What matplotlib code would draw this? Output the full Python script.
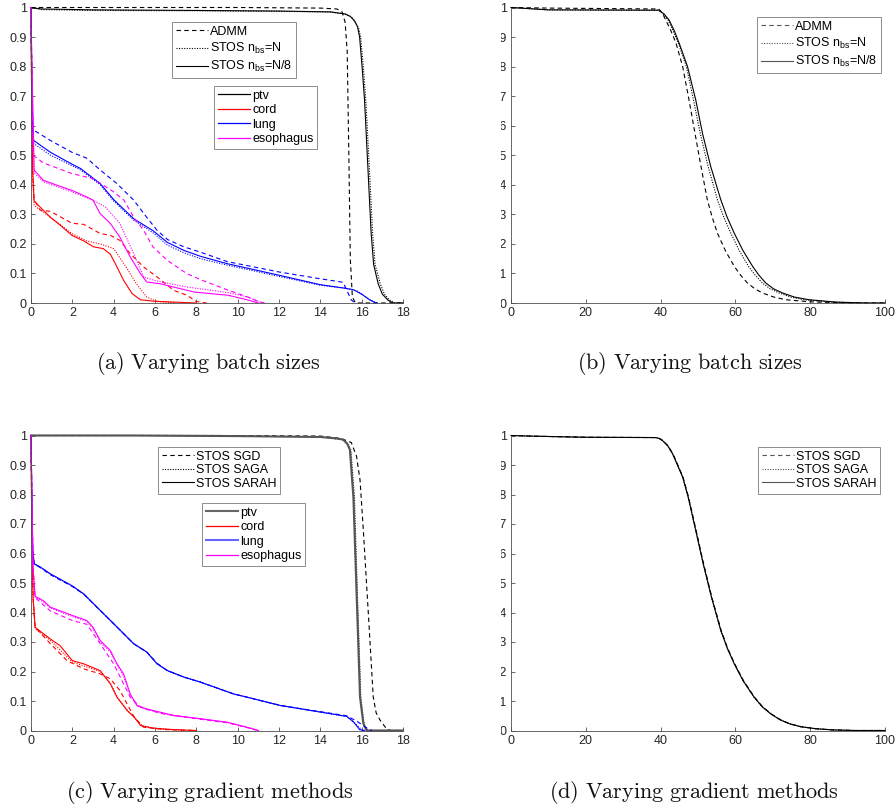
import numpy as np
import matplotlib
matplotlib.use('Agg')
import matplotlib.pyplot as plt
from matplotlib.lines import Line2D
from matplotlib.patches import Rectangle

plt.rcParams['font.family'] = ['Liberation Sans', 'DejaVu Sans']
plt.rcParams['mathtext.fontset'] = 'custom'
plt.rcParams['mathtext.rm'] = 'Liberation Sans'
plt.rcParams['mathtext.it'] = 'Liberation Sans:italic'

# ---------------- panel (a): dose volume histograms, batch sizes ----------------
a_ptv_admm = [(0, 1), (5, 1), (10, 1), (14, 0.998), (14.8, 0.995), (15.05, 0.985), (15.2, 0.95),
              (15.3, 0.85), (15.38, 0.5), (15.45, 0.15), (15.55, 0.02), (15.7, 0), (18, 0)]
a_ptv_n = [(0, 1), (0.5, 0.993), (3, 0.99), (8, 0.989), (12, 0.987), (14.5, 0.985), (15.2, 0.978),
           (15.5, 0.968), (15.7, 0.95), (15.85, 0.93), (15.95, 0.9), (16.08, 0.8), (16.2, 0.686),
           (16.37, 0.46), (16.53, 0.235), (16.65, 0.13), (16.9, 0.065), (17.1, 0.03), (17.35, 0.01),
           (17.6, 0), (18, 0)]
a_ptv_n8 = [(0, 1), (0.5, 0.995), (3, 0.992), (8, 0.99), (12, 0.988), (14.5, 0.985), (15.2, 0.978),
            (15.45, 0.97), (15.65, 0.955), (15.8, 0.935), (15.9, 0.9), (16.02, 0.8), (16.14, 0.686),
            (16.3, 0.46), (16.46, 0.235), (16.58, 0.13), (16.8, 0.065), (17.0, 0.03), (17.27, 0.01),
            (17.5, 0), (18, 0)]

a_lung_admm = [(0, 1), (0.03, 0.82), (0.08, 0.62), (0.13, 0.585), (0.94, 0.55), (1.98, 0.51),
               (2.7, 0.49), (3.35, 0.45), (4.16, 0.404), (4.97, 0.348), (5.6, 0.29), (6.1, 0.246),
               (6.6, 0.215), (7.4, 0.19), (8.2, 0.172), (9.5, 0.14), (12, 0.105), (14, 0.082),
               (15.1, 0.07), (15.3, 0.04), (15.5, 0.01), (15.7, 0)]
a_lung_n = [(0, 1), (0.03, 0.8), (0.08, 0.6), (0.13, 0.54), (0.94, 0.5), (1.98, 0.465), (2.4, 0.45),
            (3.35, 0.4), (4.0, 0.345), (4.97, 0.28), (5.9, 0.238), (6.6, 0.196), (7.4, 0.17),
            (8.2, 0.15), (9.5, 0.128), (12, 0.09), (14, 0.06), (15.2, 0.05), (15.8, 0.04),
            (16.2, 0.02), (16.6, 0.003), (16.8, 0)]
a_lung_n8 = [(0, 1), (0.03, 0.8), (0.08, 0.6), (0.13, 0.55), (0.94, 0.51), (1.98, 0.47), (2.4, 0.455),
             (3.35, 0.404), (4.0, 0.35), (4.97, 0.285), (5.9, 0.245), (6.6, 0.205), (7.4, 0.178),
             (8.2, 0.158), (9.5, 0.133), (12, 0.094), (14, 0.062), (15.2, 0.05), (15.6, 0.045),
             (16.0, 0.03), (16.4, 0.01), (16.7, 0)]

a_cord_admm = [(0, 1), (0.03, 0.7), (0.08, 0.45), (0.15, 0.35), (0.45, 0.314), (0.94, 0.31),
               (1.98, 0.27), (2.55, 0.266), (3.35, 0.235), (3.84, 0.229), (4.3, 0.212), (4.8, 0.167),
               (5.45, 0.122), (6.1, 0.088), (6.9, 0.043), (7.55, 0.026), (8.0, 0.005), (8.5, 0)]
a_cord_n = [(0, 1), (0.03, 0.7), (0.08, 0.43), (0.15, 0.33), (0.94, 0.29), (1.98, 0.235), (2.7, 0.21),
            (3.35, 0.2), (4.0, 0.184), (4.6, 0.122), (5.1, 0.065), (5.6, 0.02), (6.1, 0.005), (7, 0)]
a_cord_n8 = [(0, 1), (0.03, 0.7), (0.08, 0.45), (0.15, 0.345), (0.94, 0.29), (1.42, 0.263),
             (1.98, 0.229), (2.55, 0.21), (3.03, 0.19), (3.5, 0.184), (3.84, 0.165), (4.08, 0.133),
             (4.48, 0.077), (4.89, 0.032), (5.29, 0.011), (5.94, 0.006), (8, 0)]

a_eso_admm = [(0, 1), (0.03, 0.85), (0.1, 0.5), (0.6, 0.474), (1.98, 0.438), (3.0, 0.421),
              (4.0, 0.376), (4.5, 0.348), (4.97, 0.29), (5.45, 0.246), (5.9, 0.19), (6.6, 0.144),
              (7.55, 0.099), (8.2, 0.079), (9.56, 0.043), (10.5, 0.02), (11, 0.005), (11.3, 0)]
a_eso_n = [(0, 1), (0.03, 0.85), (0.15, 0.44), (0.6, 0.41), (1.98, 0.376), (3.0, 0.348), (3.6, 0.325),
           (4.3, 0.269), (4.97, 0.167), (5.45, 0.088), (6.1, 0.074), (7.55, 0.054), (8.2, 0.048),
           (9.56, 0.035), (10.5, 0.02), (11.2, 0)]
a_eso_n8 = [(0, 1), (0.03, 0.85), (0.15, 0.45), (0.6, 0.415), (1.98, 0.381), (2.7, 0.359), (3.0, 0.348),
            (3.35, 0.302), (3.84, 0.269), (4.3, 0.223), (4.8, 0.156), (5.3, 0.099), (5.6, 0.071),
            (6.26, 0.065), (6.9, 0.054), (7.9, 0.037), (9.56, 0.026), (10.5, 0.01), (11, 0)]

# ---------------- panel (b) ----------------
b_admm = [(0, 1), (10, 0.998), (39.5, 0.995), (40.5, 0.98), (41.4, 0.957), (42.8, 0.92), (44.1, 0.88),
          (45.9, 0.8), (47.6, 0.687), (49.2, 0.574), (50.8, 0.462), (52.5, 0.349), (53.8, 0.29),
          (55.2, 0.236), (57.4, 0.175), (59.7, 0.124), (61.4, 0.094), (63.2, 0.068), (65.2, 0.048),
          (67.2, 0.034), (70.3, 0.02), (73.5, 0.011), (80, 0.004), (90, 0), (100, 0)]
b_n = [(0, 1), (10, 0.992), (39.5, 0.99), (40.8, 0.977), (42, 0.957), (43.4, 0.92), (44.8, 0.878),
       (46.9, 0.8), (48.8, 0.687), (50.6, 0.574), (52.7, 0.462), (55.2, 0.349), (56.9, 0.29),
       (58.8, 0.236), (61.0, 0.178), (63.5, 0.124), (65.3, 0.094), (67.2, 0.068), (69.3, 0.048),
       (71.7, 0.034), (74.8, 0.02), (78.4, 0.011), (86, 0.003), (94, 0), (100, 0)]
b_n8 = [(0, 1), (10, 0.992), (39.6, 0.991), (41.0, 0.977), (42.3, 0.957), (43.7, 0.92), (45, 0.878),
        (47.2, 0.8), (49.4, 0.687), (51.2, 0.574), (53.4, 0.462), (56.1, 0.349), (57.8, 0.29),
        (59.7, 0.236), (62.0, 0.178), (64.6, 0.124), (66.3, 0.094), (68.1, 0.068), (70.2, 0.048),
        (72.6, 0.034), (75.8, 0.02), (79.7, 0.011), (87, 0.003), (95, 0), (100, 0)]

# ---------------- panel (c): gradient methods ----------------
c_ptv_sgd = [(0, 1), (9, 1), (14, 0.998), (15.0, 0.99), (15.5, 0.976), (15.75, 0.93), (15.92, 0.85),
             (16.08, 0.68), (16.32, 0.4), (16.56, 0.113), (16.7, 0.06), (16.9, 0.034), (17.2, 0.006),
             (17.4, 0), (18, 0)]
c_ptv_saga = [(0, 1), (5, 1), (10, 0.998), (14, 0.995), (15.15, 0.985), (15.35, 0.97), (15.48, 0.95),
              (15.65, 0.79), (15.8, 0.45), (15.96, 0.11), (16.12, 0.02), (16.3, 0), (18, 0)]
c_ptv_sarah = [(0, 1), (5, 1), (10, 0.998), (14, 0.995), (14.8, 0.99), (15.1, 0.986), (15.3, 0.972),
               (15.43, 0.952), (15.6, 0.79), (15.76, 0.453), (15.92, 0.113), (16.08, 0.024),
               (16.24, 0), (18, 0)]

c_lung_sgd = [(0, 1), (0.03, 0.85), (0.08, 0.62), (0.15, 0.565), (0.45, 0.552), (0.94, 0.528),
              (2.0, 0.488), (2.55, 0.462), (3.35, 0.407), (4.0, 0.362), (4.97, 0.294), (5.6, 0.266),
              (6.1, 0.228), (6.6, 0.203), (7.4, 0.181), (8.2, 0.164), (9.8, 0.124), (10.45, 0.113),
              (12.05, 0.085), (15.27, 0.05), (15.8, 0.03), (16.2, 0.01), (16.5, 0)]
c_lung_saga = [(0, 1), (0.03, 0.85), (0.08, 0.62), (0.15, 0.565), (0.45, 0.554), (0.94, 0.53),
               (2.0, 0.49), (2.55, 0.463), (3.35, 0.407), (4.0, 0.362), (4.97, 0.294), (5.6, 0.266),
               (6.1, 0.226), (6.6, 0.203), (7.4, 0.181), (8.2, 0.164), (9.8, 0.124), (10.45, 0.113),
               (12.05, 0.085), (15.3, 0.047), (15.65, 0.025), (16.0, 0.003), (16.2, 0)]
c_lung_sarah = [(0, 1), (0.03, 0.85), (0.08, 0.62), (0.15, 0.565), (0.45, 0.554), (0.94, 0.531),
                (2.0, 0.49), (2.55, 0.463), (3.35, 0.407), (4.0, 0.362), (4.97, 0.294), (5.6, 0.266),
                (6.1, 0.226), (6.6, 0.203), (7.4, 0.181), (8.2, 0.164), (9.8, 0.124), (10.45, 0.113),
                (12.05, 0.085), (15.27, 0.048), (15.6, 0.03), (15.9, 0.003), (16.1, 0)]

c_cord_sgd = [(0, 1), (0.03, 0.75), (0.1, 0.45), (0.2, 0.35), (0.94, 0.294), (1.74, 0.237),
              (2.55, 0.209), (3.35, 0.192), (3.84, 0.175), (4.3, 0.136), (4.65, 0.09), (5.0, 0.045),
              (5.45, 0.011), (6.5, 0.003), (8, 0)]
c_cord_saga = [(0, 1), (0.03, 0.75), (0.1, 0.45), (0.2, 0.345), (0.94, 0.305), (2.0, 0.232),
               (3.35, 0.2), (3.84, 0.16), (4.2, 0.11), (4.7, 0.065), (5.05, 0.04), (5.4, 0.015),
               (6, 0.006), (7.5, 0)]
c_cord_sarah = [(0, 1), (0.03, 0.75), (0.1, 0.45), (0.2, 0.35), (0.94, 0.31), (1.4, 0.288), (2.0, 0.237),
                (2.55, 0.226), (3.35, 0.203), (3.84, 0.158), (4.16, 0.113), (4.65, 0.068), (5.0, 0.045),
                (5.3, 0.017), (5.94, 0.008), (6.9, 0.003), (8, 0)]

c_eso_sgd = [(0, 1), (0.03, 0.85), (0.1, 0.55), (0.2, 0.45), (0.94, 0.405), (2.0, 0.373), (2.7, 0.36),
             (3.35, 0.294), (4.0, 0.226), (4.8, 0.113), (5.3, 0.079), (6.26, 0.058), (8.2, 0.038),
             (9.5, 0.026), (10.45, 0.01), (11, 0)]
c_eso_saga = [(0, 1), (0.03, 0.85), (0.1, 0.55), (0.2, 0.452), (0.6, 0.436), (0.94, 0.415), (2.0, 0.386),
              (2.7, 0.37), (3.0, 0.345), (3.35, 0.3), (3.84, 0.266), (4.16, 0.222), (4.48, 0.185),
              (4.8, 0.12), (5.13, 0.083), (5.6, 0.071), (6.26, 0.06), (6.9, 0.05), (8.2, 0.039),
              (9.5, 0.027), (10.45, 0.011), (11, 0)]
c_eso_sarah = [(0, 1), (0.03, 0.85), (0.1, 0.55), (0.2, 0.455), (0.6, 0.44), (0.94, 0.418), (2.0, 0.39),
               (2.7, 0.373), (3.0, 0.35), (3.35, 0.305), (3.84, 0.271), (4.16, 0.226), (4.48, 0.192),
               (4.8, 0.124), (5.13, 0.085), (5.6, 0.073), (6.26, 0.062), (6.9, 0.051), (8.2, 0.04),
               (9.5, 0.028), (10.45, 0.011), (11, 0)]

# ---------------- panel (d) ----------------
d_sgd = [(0, 1), (5, 0.998), (20, 0.994), (38.7, 0.993), (39.7, 0.99), (40.6, 0.983), (42.0, 0.965),
         (43.3, 0.938), (44.6, 0.9), (46.0, 0.859), (47.5, 0.79), (49.5, 0.678), (51.5, 0.565),
         (53.7, 0.452), (56.2, 0.339), (57.9, 0.28), (59.8, 0.226), (62.2, 0.168), (65.1, 0.113),
         (67.3, 0.08), (69.6, 0.056), (72.1, 0.036), (74.5, 0.023), (77.5, 0.013), (81.6, 0.006),
         (86, 0.002), (92, 0), (100, 0)]
d_saga = [(0, 1), (5, 0.998), (20, 0.994), (38.7, 0.993), (39.6, 0.99), (40.5, 0.983), (41.9, 0.965),
          (43.2, 0.938), (44.5, 0.9), (45.9, 0.859), (47.4, 0.79), (49.4, 0.678), (51.4, 0.565),
          (53.6, 0.452), (56.1, 0.339), (57.8, 0.28), (59.7, 0.226), (62.1, 0.168), (65, 0.113),
          (67.2, 0.08), (69.5, 0.056), (72, 0.036), (74.4, 0.023), (77.4, 0.013), (81.5, 0.006),
          (86, 0.002), (92, 0), (100, 0)]
d_sarah = [(0, 1), (5, 0.998), (20, 0.994), (38.7, 0.993), (39.6, 0.99), (40.5, 0.983), (41.9, 0.965),
           (43.2, 0.938), (44.5, 0.9), (45.9, 0.859), (47.4, 0.79), (49.4, 0.678), (51.4, 0.565),
           (53.6, 0.452), (56.1, 0.339), (57.8, 0.28), (59.7, 0.226), (62.1, 0.168), (65, 0.113),
           (67.2, 0.08), (69.5, 0.056), (72, 0.036), (74.4, 0.023), (77.4, 0.013), (81.5, 0.006),
           (86, 0.002), (92, 0), (100, 0)]

organs = ['ptv', 'cord', 'lung', 'esophagus']
organ_colors = ['black', '#ff0000', '#0000ff', '#ff00ff']
ab_labels = ['ADMM', r'STOS n$_{\mathrm{bs}}$=N', r'STOS n$_{\mathrm{bs}}$=N/8']
cd_labels = ['STOS SGD', 'STOS SAGA', 'STOS SARAH']
ytick_labels = ['0', '0.1', '0.2', '0.3', '0.4', '0.5', '0.6', '0.7', '0.8', '0.9', '1']
captions = ['(a) Varying batch sizes', '(b) Varying batch sizes',
            '(c) Varying gradient methods', '(d) Varying gradient methods']

DASH = (0, (4, 3))
DOT = (0, (1, 1.3))
styles = [DASH, DOT, '-']

W, H = 896, 809
fig = plt.figure(figsize=(W / 100, H / 100), dpi=100)


def box(x0, y0, x1, y1):
    return [x0 / W, 1 - y1 / H, (x1 - x0) / W, (y1 - y0) / H]


def style(ax, xmax, xstep):
    ax.set_xlim(0, xmax)
    ax.set_ylim(0, 1)
    ax.set_xticks(np.arange(0, xmax + 1, xstep))
    ax.set_yticks(np.linspace(0, 1, 11))
    ax.set_yticklabels(ytick_labels)
    for s in ['top', 'right']:
        ax.spines[s].set_visible(False)
    for s in ['left', 'bottom']:
        ax.spines[s].set_color('#4d4d4d')
        ax.spines[s].set_linewidth(0.6)
    ax.tick_params(direction='in', length=3, width=0.6, colors='#4d4d4d',
                   labelcolor='#262626', labelsize=9, pad=3)


def draw(ax, curve, color, ls, lw=0.8):
    pts = np.array(curve)
    ax.plot(pts[:, 0], pts[:, 1], color=color, ls=ls, lw=lw, clip_on=False)


def legend(ax, handles, labels, x0, y0, spacing):
    lg = ax.legend(handles, labels, loc='upper left', bbox_to_anchor=(x0 / W, 1 - y0 / H),
                   bbox_transform=fig.transFigure, borderaxespad=0, fontsize=9,
                   fancybox=False, framealpha=1, edgecolor='#8c8c8c', handlelength=2.6,
                   handletextpad=0.15, labelspacing=spacing, borderpad=0.3)
    lg.get_frame().set_linewidth(0.7)
    return lg


axA = fig.add_axes(box(31, 7.5, 403, 303))
axB = fig.add_axes(box(511, 7.5, 885, 303))
axC = fig.add_axes(box(31, 435.5, 403, 730.5))
axD = fig.add_axes(box(511, 435.5, 885, 730.5))

# (a)
a_sets = [[a_ptv_admm, a_ptv_n, a_ptv_n8], [a_cord_admm, a_cord_n, a_cord_n8],
          [a_lung_admm, a_lung_n, a_lung_n8], [a_eso_admm, a_eso_n, a_eso_n8]]
for curves, col in zip(a_sets, organ_colors):
    for cv, ls in zip(curves, styles):
        draw(axA, cv, col, ls)
style(axA, 18, 2)
h1 = [Line2D([], [], color='black', ls=ls, lw=0.8) for ls in styles]
lg1 = legend(axA, h1, ab_labels, 172, 22, 0.25)
axA.add_artist(lg1)
h2 = [Line2D([], [], color=c, lw=0.9) for c in organ_colors]
legend(axA, h2, organs, 214, 86, 0.2)

# (b)
for cv, ls in zip([b_admm, b_n, b_n8], styles):
    draw(axB, cv, 'black', ls)
style(axB, 100, 20)
hb = [Line2D([], [], color='#555555', ls=ls, lw=0.8) for ls in styles]
legend(axB, hb, ab_labels, 757, 17, 0.25)

# (c)
c_sets = [[c_ptv_sgd, c_ptv_saga, c_ptv_sarah], [c_cord_sgd, c_cord_saga, c_cord_sarah],
          [c_lung_sgd, c_lung_saga, c_lung_sarah], [c_eso_sgd, c_eso_saga, c_eso_sarah]]
for i, (curves, col) in enumerate(zip(c_sets, organ_colors)):
    for cv, ls in zip(curves, styles):
        if i == 0 and ls == '-':
            draw(axC, cv, '#555555', ls, lw=1.5)
        else:
            draw(axC, cv, col, ls)
style(axC, 18, 2)
h3 = [Line2D([], [], color='black', ls=ls, lw=0.8) for ls in styles]
lg3 = legend(axC, h3, cd_labels, 158, 447, 0.12)
axC.add_artist(lg3)
h4 = [Line2D([], [], color='#666666', lw=1.5), Line2D([], [], color='#ff0000', lw=0.9),
      Line2D([], [], color='#6666ff', lw=1.5), Line2D([], [], color='#ff00ff', lw=0.9)]
legend(axC, h4, organs, 202, 503, 0.2)

# (d)
for cv, ls in zip([d_sgd, d_saga, d_sarah], styles):
    draw(axD, cv, 'black', ls)
style(axD, 100, 20)
hd = [Line2D([], [], color='#555555', ls=ls, lw=0.8) for ls in styles]
legend(axD, hd, cd_labels, 758, 447, 0.12)

# the right-hand figures were cropped so only the end of their y labels shows
fig.add_artist(Rectangle((420 / W, 0), (501 - 420) / W, 1, transform=fig.transFigure,
                         facecolor='white', edgecolor='none', zorder=10))

cap_pos = [(208, 364), (690, 364), (210, 792), (694, 792)]
for txt, (cx, cy) in zip(captions, cap_pos):
    fig.text(cx / W, 1 - cy / H, '$\\mathrm{' + txt.replace(' ', '\\ ') + '}$',
             ha='center', va='center', fontsize=16, math_fontfamily='cm', color='#111111')

fig.savefig('out.png', dpi=100)
